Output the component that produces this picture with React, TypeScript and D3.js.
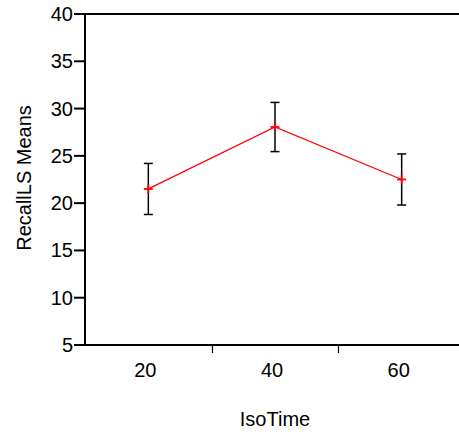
import React, { useRef, useEffect } from 'react';
import * as d3 from 'd3';

const categories = ['20', '40', '60'];
const means = [21.5, 28.05, 22.5];
const errors = [2.7, 2.6, 2.7];
const yTicks = [5, 10, 15, 20, 25, 30, 35, 40];

const W = 459;
const H = 432;

export default function App() {
  const svgRef = useRef<SVGSVGElement>(null);

  useEffect(() => {
    const svg = d3.select(svgRef.current);
    svg.selectAll('*').remove();

    const left = 85, top = 14, bottom = 345;
    const font = 'Liberation Sans, Arial, sans-serif';
    const fs = 20;

    const x = d3.scaleBand().domain(categories).range([left, left + 380]);
    const y = d3.scaleLinear().domain([5, 40]).range([bottom, top]);

    // frame: top line, left axis, bottom axis
    svg.append('line').attr('x1', left).attr('x2', W).attr('y1', top).attr('y2', top)
      .attr('stroke', '#000').attr('stroke-width', 2);
    svg.append('line').attr('x1', left).attr('x2', left).attr('y1', top).attr('y2', bottom)
      .attr('stroke', '#000').attr('stroke-width', 2);
    svg.append('line').attr('x1', left - 11).attr('x2', W).attr('y1', bottom).attr('y2', bottom)
      .attr('stroke', '#000').attr('stroke-width', 2);

    // y ticks
    const yg = svg.append('g');
    yTicks.forEach(t => {
      yg.append('line').attr('x1', left - 11).attr('x2', left).attr('y1', y(t)).attr('y2', y(t))
        .attr('stroke', '#000').attr('stroke-width', 2);
      yg.append('text').attr('x', left - 12).attr('y', y(t)).attr('dy', '0.35em')
        .attr('text-anchor', 'end').attr('font-family', font).attr('font-size', fs)
        .text(t);
    });

    // x ticks at band boundaries
    categories.slice(1).forEach(c => {
      const xx = Math.round(x(c)!) + 0.5;
      svg.append('line').attr('x1', xx).attr('x2', xx).attr('y1', bottom).attr('y2', bottom + 8)
        .attr('stroke', '#000').attr('stroke-width', 1.2);
    });
    categories.forEach(c => {
      svg.append('text').attr('x', x(c)! + x.bandwidth() / 2 - 3).attr('y', 377)
        .attr('text-anchor', 'middle').attr('font-family', font).attr('font-size', fs)
        .text(c);
    });

    // axis titles
    svg.append('text').attr('x', 275).attr('y', 426).attr('text-anchor', 'middle')
      .attr('font-family', font).attr('font-size', fs).text('IsoTime');
    svg.append('text').attr('transform', 'translate(31,178) rotate(-90)')
      .attr('text-anchor', 'middle').attr('font-family', font).attr('font-size', fs)
      .text('RecallLS Means');

    const cx = (i: number) => x(categories[i])! + x.bandwidth() / 2;

    // error bars
    means.forEach((m, i) => {
      const g = svg.append('g').attr('stroke', '#000').attr('stroke-width', 1.5);
      const px = cx(i);
      g.append('line').attr('x1', px).attr('x2', px).attr('y1', y(m + errors[i])).attr('y2', y(m - errors[i]));
      [m + errors[i], m - errors[i]].forEach(v => {
        g.append('line').attr('x1', px - 4.5).attr('x2', px + 4.5).attr('y1', y(v)).attr('y2', y(v));
      });
    });

    // mean line
    const line = d3.line<number>().x((_, i) => cx(i)).y(d => y(d));
    svg.append('path').datum(means).attr('d', line).attr('fill', 'none')
      .attr('stroke', '#ff0000').attr('stroke-width', 1.3);

    // cross markers
    means.forEach((m, i) => {
      const px = cx(i), py = y(m);
      const g = svg.append('g').attr('stroke', '#ff0000').attr('stroke-width', 1.8);
      g.append('line').attr('x1', px - 4.5).attr('x2', px + 4.5).attr('y1', py).attr('y2', py);
      g.append('line').attr('x1', px).attr('x2', px).attr('y1', py - 4.5).attr('y2', py + 4.5);
    });
  }, []);

  return (
    <svg ref={svgRef} width={W} height={H}
      style={{ position: 'absolute', left: 0, top: 0, background: '#fff' }} />
  );
}
